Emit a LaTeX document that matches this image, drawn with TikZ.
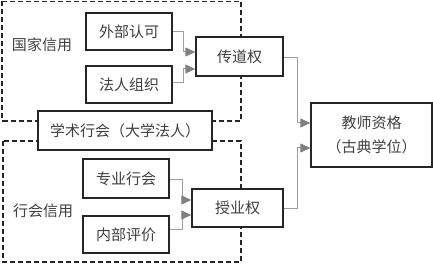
\documentclass[tikz,border=0pt]{standalone}
\usepackage{fontspec}
\newfontfamily\cjk{Noto Sans CJK SC}
\usetikzlibrary{arrows.meta,calc}
\begin{document}
\begin{tikzpicture}[x=1pt,y=-1pt,
  box/.style={draw=black!85, line width=1.3pt, fill=white, inner sep=0pt,
    font=\cjk\fontsize{15}{24}\selectfont, text=black!75, align=center},
  lbl/.style={inner sep=0pt, font=\cjk\fontsize{15}{18}\selectfont, text=black!75},
  conn/.style={draw=black!38, line width=1pt,
    -{Triangle[length=10pt,width=9pt,fill=black!50,color=black!50]}},
  frame/.style={draw=black!85, line width=1.2pt, dash pattern=on 5pt off 3pt}]
\useasboundingbox (0,0) rectangle (433,264);
% dashed frames
\draw[frame] (2,1.5) rectangle (241,121);
\draw[frame] (3,141) rectangle (241,262);
% labels
\node[lbl] (gj) at (42,45) {国家信用};
\node[lbl] (hh) at (43,211) {行会信用};
% boxes
\node[box, minimum width=86, minimum height=37] (wb) at (129,31.5) {外部认可};
\node[box, minimum width=86, minimum height=37] (fr) at (129,84.5) {法人组织};
\node[box, minimum width=87, minimum height=39] (cd) at (239.5,56.5) {传道权};
\node[box, minimum width=174, minimum height=39] (xs) at (125,130.5) {学术行会（大学法人）};
\node[box, minimum width=86, minimum height=39] (zy) at (126,178.5) {专业行会};
\node[box, minimum width=86, minimum height=37] (nb) at (126,234.5) {内部评价};
\node[box, minimum width=91, minimum height=38] (sy) at (237.5,208) {授业权};
\node[box, minimum width=121, minimum height=64] (js) at (371.5,135) {教师资格\\（古典学位）};
% connectors
\draw[conn] (wb.east) -- ++(11,0) |- ($(cd.west)+(0,-4.5)$);
\draw[conn] ($(fr.east)+(0,-1.5)$) -- ++(11,0) |- ($(cd.west)+(0,12.5)$);
\draw[conn] ($(zy.east)+(0,1.5)$) -- ++(13,0) |- ($(sy.west)+(0,-8)$);
\draw[conn] ($(nb.east)+(0,-5.5)$) -- ++(13,0) |- ($(sy.west)+(0,7)$);
\draw[conn] ($(cd.east)+(0,1.5)$) -- ++(14,0) |- ($(js.west)+(0,-12)$);
\draw[conn] ($(sy.east)+(0,1)$) -- ++(14,0) |- ($(js.west)+(0,13)$);
\end{tikzpicture}
\end{document}
